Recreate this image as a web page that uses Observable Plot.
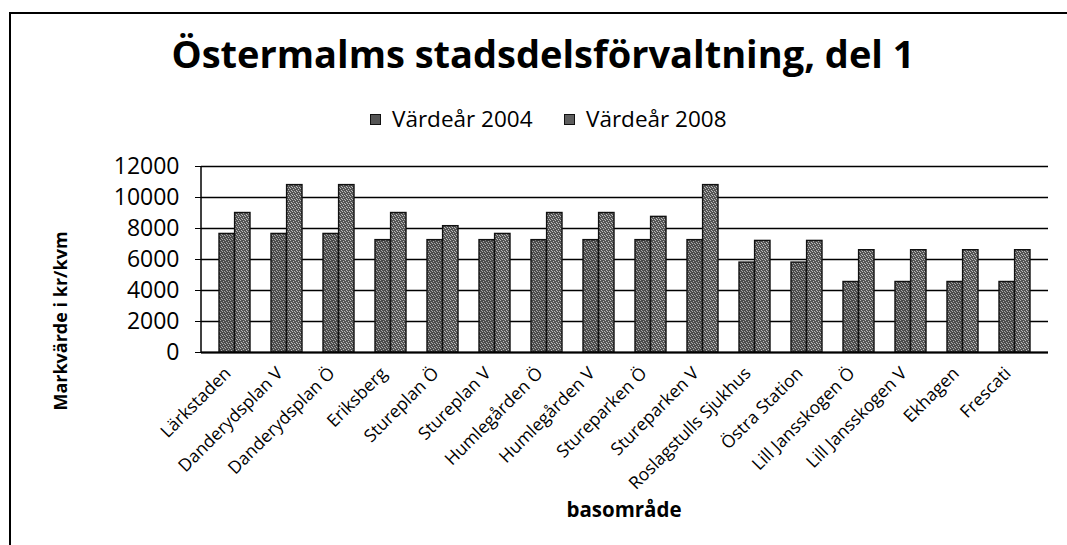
<!DOCTYPE html>
<html>
<head>
<meta charset="utf-8">
<script src="https://cdn.jsdelivr.net/npm/d3@7"></script>
<script src="https://cdn.jsdelivr.net/npm/@observablehq/plot@0.6"></script>
<style>
  html, body { margin: 0; padding: 0; background: #fff; overflow: hidden; }
  #wrap { position: relative; width: 1067px; height: 545px; overflow: hidden; font-family: 'Open Sans', sans-serif; color: #000; }
  #frame { position: absolute; left: 9px; top: 12px; width: 1056px; height: 531px; border-left: 2px solid #000; border-top: 2px solid #000; }
  .txt { position: absolute; white-space: nowrap; line-height: 1; }
  #title { left: 543px; top: 34px; font-size: 38px; font-weight: bold; transform: translateX(-50%); }
  .leg { font-size: 22.5px; top: 108px; }
  .sw { position: absolute; width: 9px; height: 9px; border: 1px solid #111; }
  #ytitle { left: 60px; top: 321px; font-size: 18px; font-weight: bold; transform: translate(-50%, -50%) rotate(-90deg); }
  #xtitle { left: 624px; top: 499px; font-size: 20.5px; font-weight: bold; transform: translateX(-50%); }
  #chart { position: absolute; left: 0; top: 0; }
</style>
</head>
<body>
<div id="wrap">
  <div id="frame"></div>
  <div id="chart"></div>
  <div id="title" class="txt">Östermalms stadsdelsförvaltning, del 1</div>
  <div class="sw" id="sw1" style="left:370px; top:114px;"></div>
  <div class="txt leg" id="leg1" style="left:392px;"></div>
  <div class="sw" id="sw2" style="left:564px; top:114px;"></div>
  <div class="txt leg" id="leg2" style="left:586px;"></div>
  <div id="ytitle" class="txt">Markvärde i kr/kvm</div>
  <div id="xtitle" class="txt">basområde</div>
</div>
<script>
const categories = ["Lärkstaden","Danderydsplan V","Danderydsplan Ö","Eriksberg","Stureplan Ö","Stureplan V","Humlegården Ö","Humlegården V","Stureparken Ö","Stureparken V","Roslagstulls Sjukhus","Östra Station","Lill Jansskogen Ö","Lill Jansskogen V","Ekhagen","Frescati"];
const series = ["Värdeår 2004", "Värdeår 2008"];
const values2004 = [7650,7650,7650,7250,7250,7250,7250,7250,7250,7250,5800,5800,4550,4550,4550,4550];
const values2008 = [9000,10800,10800,9000,8150,7650,9000,9000,8750,10800,7200,7200,6600,6600,6600,6600];
const yTicks = [0,2000,4000,6000,8000,10000,12000];

const rows2004 = categories.map((c, i) => ({category: c, series: series[0], value: values2004[i]}));
const rows2008 = categories.map((c, i) => ({category: c, series: series[1], value: values2008[i]}));

document.getElementById("leg1").textContent = series[0];
document.getElementById("leg2").textContent = series[1];

// halftone-like texture patterns (style only)
function patternDefs() {
  const ns = "http://www.w3.org/2000/svg";
  const defs = document.createElementNS(ns, "defs");
  [["tex2004", "#4c4c4c", "#a9a9a9"], ["tex2008", "#555555", "#bcbcbc"]].forEach(([id, base, dot]) => {
    const p = document.createElementNS(ns, "pattern");
    p.setAttribute("id", id);
    p.setAttribute("width", 5);
    p.setAttribute("height", 4);
    p.setAttribute("patternUnits", "userSpaceOnUse");
    const r = document.createElementNS(ns, "rect");
    r.setAttribute("width", 5); r.setAttribute("height", 4); r.setAttribute("fill", base);
    p.appendChild(r);
    [[0, 0], [3, 1], [1, 2], [4, 3], [2, 3]].forEach(([x, y]) => {
      const d = document.createElementNS(ns, "rect");
      d.setAttribute("x", x); d.setAttribute("y", y);
      d.setAttribute("width", 1); d.setAttribute("height", 1); d.setAttribute("fill", dot);
      p.appendChild(d);
    });
    defs.appendChild(p);
  });
  return defs;
}

const half = 15.6;
const chart = Plot.plot({
  width: 1067,
  height: 545,
  marginTop: 166,
  marginBottom: 193,
  marginLeft: 201,
  marginRight: 19,
  style: {fontFamily: "'Open Sans', sans-serif", background: "transparent", color: "#000"},
  x: {type: "band", domain: categories, paddingInner: 0.41, paddingOuter: 0.205, label: null},
  y: {domain: [0, 12000], label: null},
  marks: [
    () => patternDefs(),
    Plot.gridY({ticks: yTicks, stroke: "#000", strokeOpacity: 1, strokeWidth: 1.4}),
    Plot.barY(rows2004, {x: "category", y: "value", fill: "url(#tex2004)", stroke: "#111", strokeWidth: 1.4, insetRight: half}),
    Plot.barY(rows2008, {x: "category", y: "value", fill: "url(#tex2008)", stroke: "#111", strokeWidth: 1.4, insetLeft: half}),
    Plot.ruleY([0], {stroke: "#000", strokeWidth: 2}),
    (index, scales, values, dims) => {
      const line = document.createElementNS("http://www.w3.org/2000/svg", "line");
      line.setAttribute("x1", dims.marginLeft);
      line.setAttribute("x2", dims.marginLeft);
      line.setAttribute("y1", scales.y(12000));
      line.setAttribute("y2", scales.y(0));
      line.setAttribute("stroke", "#000");
      line.setAttribute("stroke-width", 1.5);
      return line;
    },
    Plot.axisY({ticks: yTicks, tickSize: 6, tickPadding: 16, fontSize: 23, tickFormat: "d", label: null}),
    Plot.axisX({tickRotate: -45, tickSize: 0, tickPadding: 10, fontSize: 17.5, dx: -7, dy: 8, label: null})
  ]
});
document.getElementById("chart").appendChild(chart);
document.getElementById("sw1").style.background = "#555";
document.getElementById("sw2").style.background = "#5e5e5e";
</script>
</body>
</html>
